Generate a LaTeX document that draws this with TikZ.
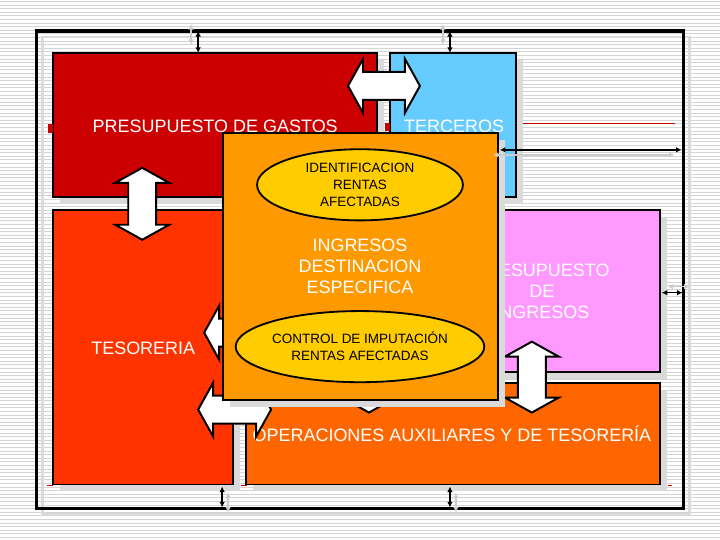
\documentclass[tikz,border=0pt]{standalone}
\usepackage{fontspec}
\setmainfont{Liberation Sans}
\usetikzlibrary{shapes.geometric,arrows.meta}

\definecolor{gastosred}{HTML}{CC0000}
\definecolor{tercerosblue}{HTML}{66CCFF}
\definecolor{tesoreriared}{HTML}{FF3300}
\definecolor{ingresospink}{HTML}{FF99FF}
\definecolor{operacionesorange}{HTML}{FF6600}
\definecolor{destorange}{HTML}{FF9900}
\definecolor{ovalyellow}{HTML}{FFCC00}
\definecolor{shadowgray}{HTML}{DADADA}
\definecolor{stripegray}{HTML}{D4D4D4}
\definecolor{ghostgray}{HTML}{CCCCCC}

% white block arrow with two heads: x1, x2, y
\newcommand{\hdbl}[3]{%
  \filldraw[blockarrow] (#1,#3) -- ++(15,-27) -- ++(0,13) -- ({#2-15},{#3-14})
    -- ++(0,-13) -- (#2,#3) -- ++(-15,27) -- ++(0,-13) -- ({#1+15},{#3+14})
    -- ++(0,13) -- cycle;}
% same, upright: x, y1, y2
\newcommand{\vdbl}[3]{%
  \filldraw[blockarrow] (#1,#2) -- ++(-27,15) -- ++(13,0) -- ({#1-14},{#3-15})
    -- ++(-13,0) -- (#1,#3) -- ++(27,-15) -- ++(-13,0) -- ({#1+14},{#2+15})
    -- ++(13,0) -- cycle;}

\begin{document}
\begin{tikzpicture}[x=0.025cm, y=-0.025cm,
  panel/.style={draw=black, line width=1.4pt},
  paneltext/.style={text=white, font=\fontsize{12.8}{14.9}\selectfont, align=center, inner sep=0pt},
  oval/.style={ellipse, draw=black, line width=1.3pt, fill=ovalyellow,
    font=\fontsize{9.6}{12.1}\selectfont, align=center, inner sep=0pt,
    minimum width=5.15cm, minimum height=1.78cm},
  blockarrow/.style={draw=black, fill=white, line width=1.4pt},
  dim/.style={{Latex[length=4pt,width=4pt]}-{Latex[length=4pt,width=4pt]}, line width=1.1pt},
  ghost/.style={dim, draw=ghostgray}]
  % striped background
  \fill[white] (0,0) rectangle (720,540);
  \foreach \y in {1.5,5.1,...,540} \draw[stripegray, line width=0.55pt] (0,\y) -- (720,\y);
  \useasboundingbox (0,0) rectangle (720,540);
  % outer frame
  \draw[shadowgray, line width=2pt] (42,37) rectangle (690,515);
  \draw[line width=2.2pt] (36,31) rectangle (684,509);
  % Presupuesto de gastos
  \fill[shadowgray] (60,60) rectangle (384,204);
  \draw[panel, fill=gastosred] (53,53) rectangle (377,197);
  \node[paneltext, anchor=base] (gastos) at (215,133) {PRESUPUESTO DE GASTOS};
  % Terceros
  \fill[shadowgray] (397,60) rectangle (523,204);
  \draw[panel, fill=tercerosblue] (390,53) rectangle (516,197);
  \node[paneltext, anchor=base west] (terceros) at (404,133) {TERCEROS};
  % Tesoreria
  \fill[shadowgray] (60,217) rectangle (240,492);
  \draw[panel, fill=tesoreriared] (53,210) rectangle (233,485);
  \node[paneltext, anchor=base] (tesoreria) at (143,355) {TESORERIA};
  % Presupuesto de ingresos
  \fill[shadowgray] (402,217) rectangle (667,379);
  \draw[panel, fill=ingresospink] (395,210) rectangle (660,372);
  \node[paneltext] (ingresos) at (542,291.5) {PRESUPUESTO\\DE\\INGRESOS};
  % Operaciones auxiliares
  \fill[shadowgray] (253,390) rectangle (667,492);
  \draw[panel, fill=operacionesorange] (246,383) rectangle (660,485);
  \node[paneltext, anchor=base] (operaciones) at (452,442) {OPERACIONES AUXILIARES Y DE TESORERÍA};
  % bullets and stray marks
  \fill[gastosred] (48,124) rectangle (53,133);
  \fill[gastosred] (385,123) rectangle (390,131);
  \draw[gastosred, line width=0.5pt] (523,123) -- (675,123);
  \draw[gastosred, line width=0.6pt] (47,486) -- (53,486);
  \draw[gastosred, line width=0.6pt] (241,486) -- (247,486);
  \draw[gastosred, line width=0.6pt] (668,486) -- (672,486);
  % block arrows between the panels
  \hdbl{348}{420}{86}
  \vdbl{142}{168}{240}
  \vdbl{532}{342}{413}
  % block arrows partly hidden by the overlay
  \hdbl{204}{300}{333}
  \hdbl{198}{271}{410}
  \vdbl{369}{300}{413}
  % Ingresos destinacion especifica overlay
  \fill[shadowgray] (230,140) rectangle (505,407);
  \draw[panel, fill=destorange] (223,133) rectangle (498,400);
  \node[paneltext] (destinacion) at (360,267) {INGRESOS\\DESTINACION\\ESPECIFICA};
  \node[oval] (identificacion) at (360,185) {IDENTIFICACION\\RENTAS\\AFECTADAS};
  \node[oval] (control) at (360,347) {CONTROL DE IMPUTACIÓN\\RENTAS AFECTADAS};
  % spacing marks
  \draw[ghost] (191,24) -- (191,45);
  \draw[ghost] (443,24) -- (443,45);
  \draw[ghost] (493,155) -- (675,155);
  \draw[ghost] (668,287) -- (690,287);
  \draw[ghost] (228,493) -- (228,513);
  \draw[ghost] (456,493) -- (456,513);
  \draw[dim] (198,31) -- (198,53);
  \draw[dim] (450,31) -- (450,53);
  \draw[dim] (500,150) -- (682,150);
  \draw[dim] (662,293) -- (683,293);
  \draw[dim] (222,487) -- (222,508);
  \draw[dim] (450,487) -- (450,508);
\end{tikzpicture}
\end{document}
